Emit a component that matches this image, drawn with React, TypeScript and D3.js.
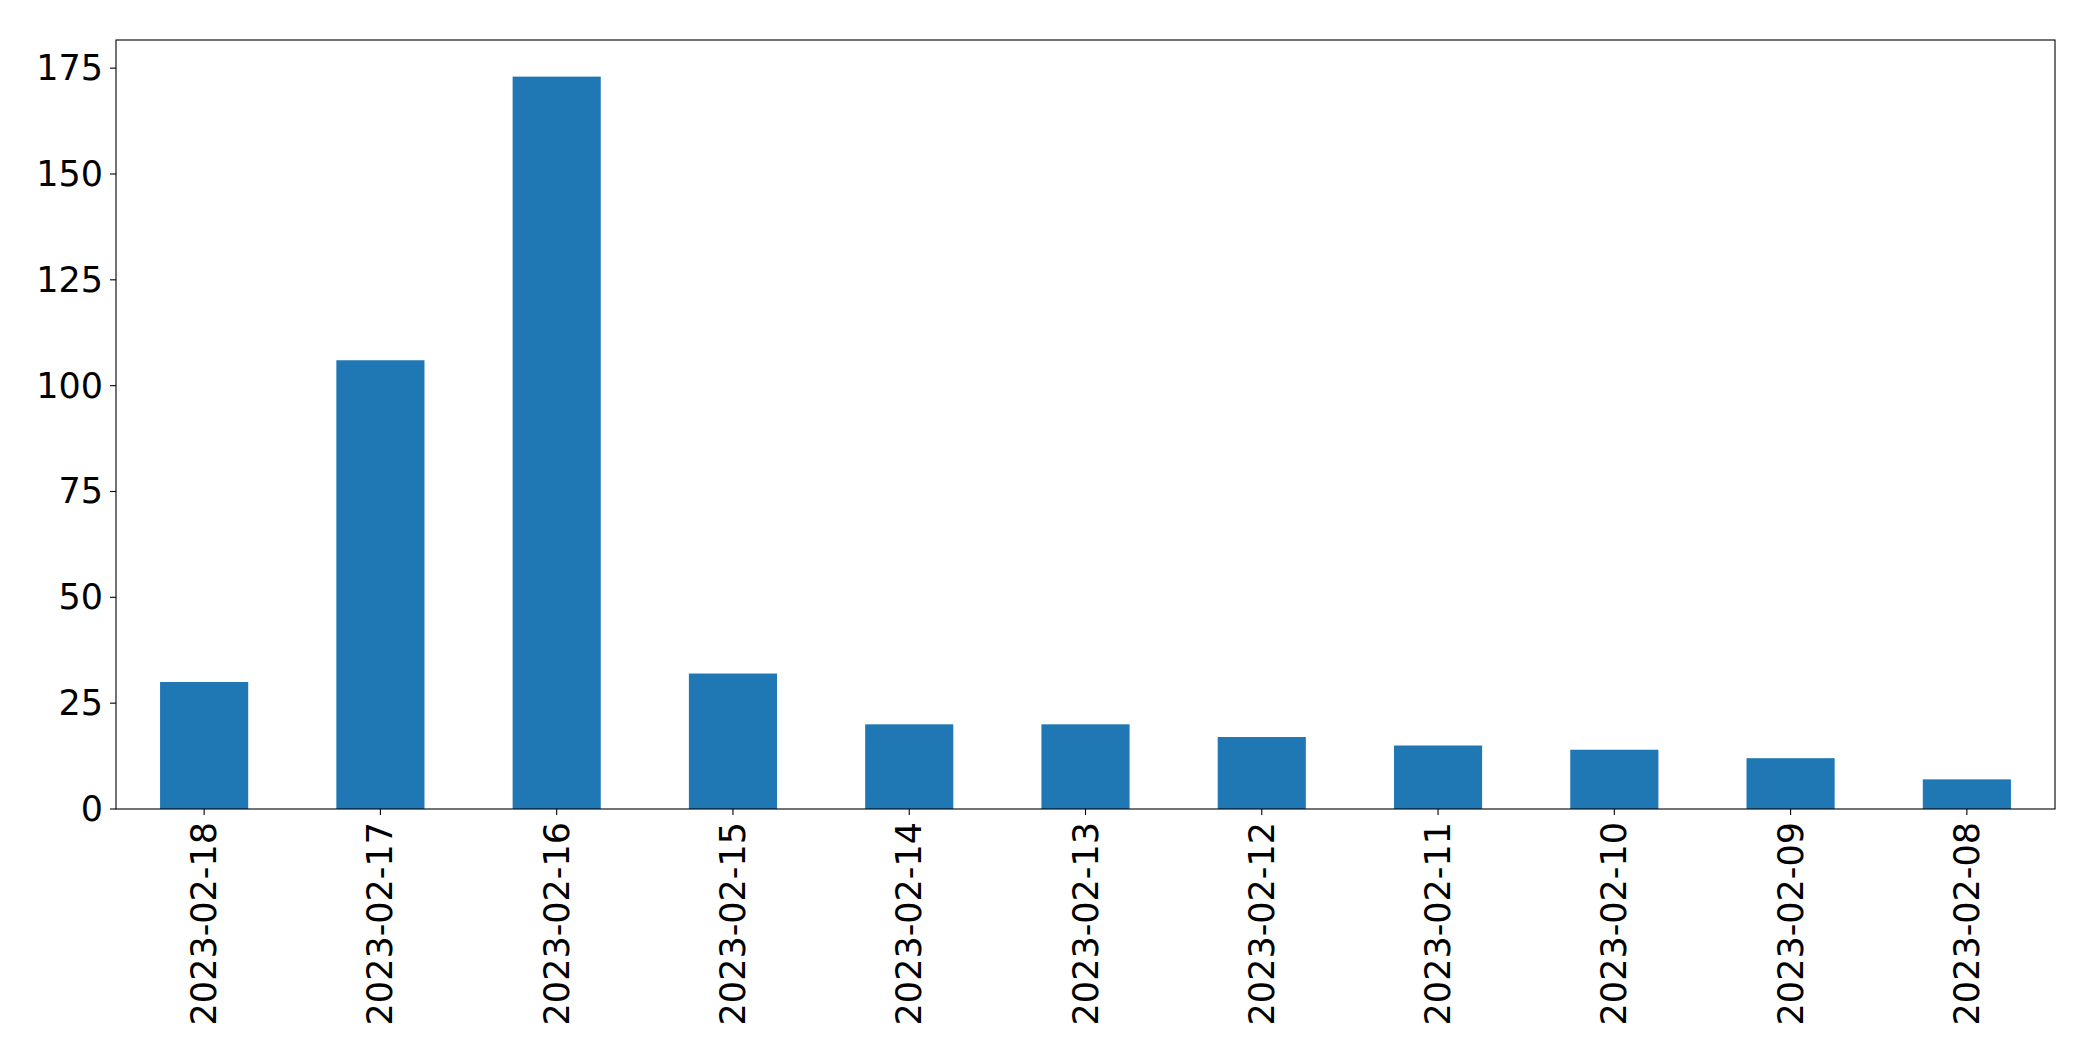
import React from "react";
import * as d3 from "d3";

const categories = [
  "2023-02-18", "2023-02-17", "2023-02-16", "2023-02-15", "2023-02-14", "2023-02-13",
  "2023-02-12", "2023-02-11", "2023-02-10", "2023-02-09", "2023-02-08",
];
const values = [30, 106, 173, 32, 20, 20, 17, 15, 14, 12, 7];
const yTicks = [0, 25, 50, 75, 100, 125, 150, 175];

const W = 2093;
const H = 1061;
const margin = { left: 116, right: 38, top: 40, bottom: 252 };
const FONT = "'DejaVu Sans', sans-serif";

export default function App() {
  const x0 = margin.left;
  const x1 = W - margin.right;
  const y0 = H - margin.bottom;
  const y1 = margin.top;
  const maxV = d3.max(values) as number;
  const x = d3.scaleBand<string>().domain(categories).range([x0, x1]).paddingInner(0.5).paddingOuter(0.25);
  const y = d3.scaleLinear().domain([0, maxV * 1.05]).range([y0, y1]);
  const tickLen = 6;

  return (
    <svg width={W} height={H} style={{ position: "absolute", left: 0, top: 0, background: "#fff" }}>
      <rect x={0} y={0} width={W} height={H} fill="#fff" />
      {categories.map((c, i) => (
        <rect key={c} x={x(c)} y={y(values[i])} width={x.bandwidth()} height={y(0) - y(values[i])} fill="#1f77b4" />
      ))}
      <rect x={x0} y={y1} width={x1 - x0} height={y0 - y1} fill="none" stroke="#000" strokeWidth={1.1} />
      {yTicks.map((t) => (
        <g key={t}>
          <line x1={x0 - tickLen} x2={x0} y1={y(t)} y2={y(t)} stroke="#000" strokeWidth={1.1} />
          <text x={x0 - tickLen - 7} y={y(t)} textAnchor="end" dominantBaseline="central" fontFamily={FONT} fontSize={35} fill="#000">
            {t}
          </text>
        </g>
      ))}
      {categories.map((c) => {
        const cx = (x(c) as number) + x.bandwidth() / 2;
        const ty = y0 + tickLen + 7;
        return (
          <g key={c}>
            <line x1={cx} x2={cx} y1={y0} y2={y0 + tickLen} stroke="#000" strokeWidth={1.1} />
            <text
              transform={`translate(${cx},${ty}) rotate(-90)`}
              textAnchor="end"
              dominantBaseline="central"
              fontFamily={FONT}
              fontSize={35}
              fill="#000"
            >
              {c}
            </text>
          </g>
        );
      })}
    </svg>
  );
}
